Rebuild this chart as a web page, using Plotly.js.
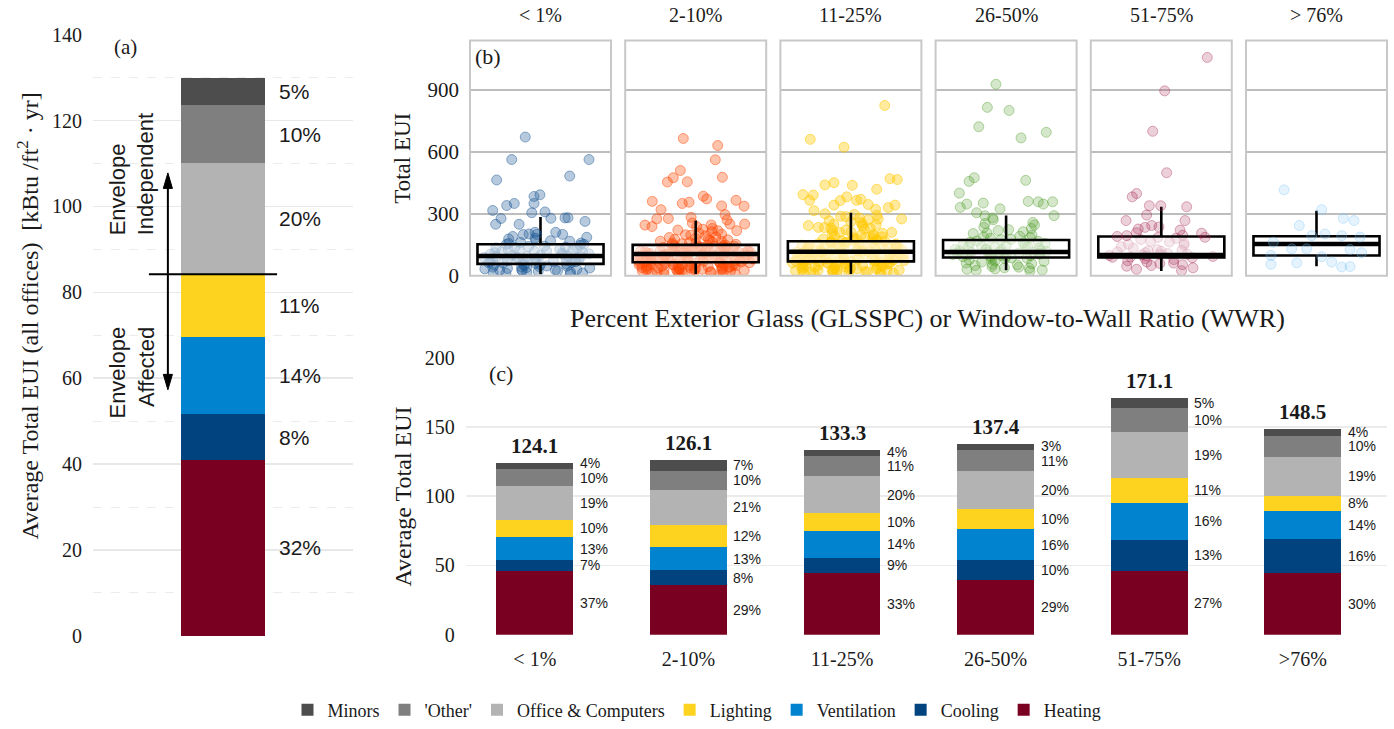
<!DOCTYPE html>
<html><head><meta charset="utf-8">
<script src="https://cdn.plot.ly/plotly-3.0.1.min.js"></script>
<style>html,body{margin:0;padding:0;background:#fff;overflow:hidden}#chart{width:1394px;height:729px}</style>
</head><body><div id="chart"></div>
<script>
// ---------- shared ----------
const components = ['Heating','Cooling','Ventilation','Lighting','Office & Computers',"'Other'",'Minors'];
const compColors = ['#7a0021','#00437f','#0183d0','#fdd31f','#b3b3b3','#7f7f7f','#4d4d4d'];

// ---------- panel (a): all offices ----------
const allOffices = [41.0, 10.6, 17.9, 14.7, 25.9, 13.5, 6.4];
const allOfficesPct = ['32%','8%','14%','11%','20%','10%','5%'];

// ---------- panel (c): by WWR ----------
const wwrCats = ['< 1%','2-10%','11-25%','26-50%','51-75%','>76%'];
const heating     = [46.2, 36.0, 44.3, 39.3, 46.2, 44.3];
const cooling     = [7.9, 10.4, 11.4, 14.3, 22.2, 24.8];
const ventilation = [16.2, 17.2, 18.9, 22.4, 26.9, 20.2];
const lighting    = [12.8, 15.3, 13.5, 14.5, 17.8, 11.2];
const office      = [24.0, 25.9, 26.2, 27.4, 33.3, 28.1];
const other       = [12.2, 13.6, 14.5, 15.5, 17.0, 14.8];
const minors      = [4.8, 7.7, 4.5, 4.0, 7.7, 5.1];
const totals      = [124.1, 126.1, 133.3, 137.4, 171.1, 148.5];
const heatingPct  = ['37%','29%','33%','29%','27%','30%'];
const coolingPct  = ['7%','8%','9%','10%','13%','16%'];
const ventPct     = ['13%','13%','14%','16%','16%','14%'];
const lightPct    = ['10%','12%','10%','10%','11%','8%'];
const officePct   = ['19%','21%','20%','20%','19%','19%'];
const otherPct    = ['10%','10%','11%','11%','10%','10%'];
const minorsPct   = ['4%','7%','4%','3%','5%','4%'];

// ---------- panel (b): distributions by GLSSPC ----------
const facetNames = ['< 1%','2-10%','11-25%','26-50%','51-75%','> 76%'];
const boxQ1  = [57, 65, 69, 88, 88, 98];
const boxMed = [95, 105, 116, 115, 100, 154];
const boxQ3  = [152, 149, 167, 173, 190, 191];
const boxLo  = [8, 8, 8, 26, 23, 45];
const boxHi  = [284, 267, 305, 292, 334, 315];
const ptRGB  = ['30,90,150','255,69,0','255,200,0','75,155,35','165,35,80','120,195,245'];
const ptAlpha = [0.32, 0.33, 0.38, 0.24, 0.22, 0.2];

const cluster1 = [9,13,16,21,23,28,30,35,37,42,44,49,52,54,59,61,66,68,71,76,78,83,86,89,92,94,97,103,106,109,114,118,121,125,128,134,138,141,147,152,156,161,169,173,182,190,199,12,26,47,64,81,99,116,133,151,167,33,57,74,104,143,18,41,88,
  15,24,39,51,63,73,84,96,111,124,137,158,178,27,46,69,93,119];
const cluster2 = [7,10,12,15,18,20,22,26,27,31,34,36,38,42,45,46,50,53,55,58,61,62,66,69,70,73,77,79,82,85,86,90,93,95,98,101,102,106,109,111,114,118,119,123,126,129,131,134,138,142,145,148,151,155,158,163,166,171,176,181,187,193,198,206,213,221,229,238,246,255,14,24,33,44,57,64,75,88,97,104,113,124,136,149,161,178,196,17,39,52,68,81,92,108,121,139,29,48,71,94,116,143,
  8,11,16,19,23,25,28,30,32,35,37,40,41,43,47,49,51,54,56,59,60,63,65,67,71,72,74,76,78,80,83,84,87,89,91,96,99,100,103,107,110,112,115,117,120,122,125,128,130,133,137,140,146,152,157,167,174,185,201,225];
const cluster3 = [8,11,14,17,21,24,26,30,33,35,39,42,45,47,51,54,57,60,62,66,69,72,74,78,81,84,87,90,93,96,99,103,105,108,112,115,118,121,125,128,131,135,139,142,146,150,154,157,161,165,169,174,178,183,188,194,199,205,211,218,226,233,241,249,258,266,279,288,297,13,28,41,56,67,79,91,107,119,133,148,163,181,202,222,261,19,36,63,85,111,127,152,171,192,286,
  9,12,15,18,20,23,27,29,31,34,37,40,43,46,49,52,55,58,61,64,65,68,70,73,76,77,80,83,86,88,92,95,98,101,104,109,113,116,120,123,126,130,134,137,141,145,149,153,158,162,167,172,177,186,197,209,230,246,271,293];
const cluster4 = [22,27,33,38,44,49,55,61,66,72,77,82,86,90,94,97,101,104,107,110,113,116,119,123,127,131,136,140,145,151,156,162,168,174,181,188,196,204,213,223,234,246,258,271,31,58,79,92,108,121,142,166,191,219,253,41,98,115,133,176,
  25,36,52,69,84,96,103,112,118,126,138,149,159,185,207,229];
const cluster5 = [24,31,38,46,53,59,66,72,78,83,87,91,95,98,101,104,107,111,115,120,126,133,140,148,157,166,175,185,196,208,221,236,61,89,103,122,152,181,49,93,118,163];
const cluster6 = [];

const outX1 = [-0.108,-0.204,0.344,-0.311,0.207,-0.004,-0.046,-0.046,-0.186,-0.240,-0.339,-0.062,0.032,0.074,-0.280,0.195,0.174,-0.318,-0.152,0.316,-0.081,-0.039,-0.027,0.108,0.157,0.328];
const outY1 = [672,563,563,464,483,392,384,350,350,340,316,305,309,278,277,281,280,249,249,263,202,210,200,210,200,186];
const outX2 = [-0.088,0.156,0.139,-0.109,-0.159,-0.201,-0.060,0.189,-0.308,-0.095,-0.047,0.054,0.078,0.286,0.343,0.184,-0.246,0.347,0.208,0.222,0.243,-0.033,-0.194,-0.276,0.291,-0.360,-0.310,0.158];
const outY2 = [665,631,562,510,475,454,455,477,360,350,356,385,372,365,337,338,320,250,296,270,250,283,277,275,218,245,238,218];
const outX3 = [0.240,-0.288,-0.049,-0.120,-0.184,0.010,0.277,0.329,0.183,-0.340,-0.267,-0.030,0.040,0.070,-0.292,-0.120,-0.075,0.123,0.313,0.265,-0.262,-0.184,0.175,-0.302,-0.231,-0.141,0.081,0.289,0.360,0.194];
const outY3 = [825,661,623,451,440,438,470,466,419,393,391,382,365,370,365,342,364,345,342,330,315,300,322,243,234,230,250,210,275,275];
const outX4 = [-0.072,-0.133,0.021,-0.194,0.285,0.106,-0.226,-0.263,0.139,-0.332,-0.162,-0.279,0.157,0.228,0.264,0.330,-0.325,-0.209,-0.043,0.340,-0.150,-0.095];
const outY4 = [928,816,801,722,695,668,475,457,462,400,352,347,360,358,347,358,331,305,324,291,290,280];
const outX5 = [0.326,0.024,-0.061,0.038,-0.206,-0.175,-0.085,-0.004,0.180,-0.104,-0.250,0.168,-0.164,-0.116,-0.068,-0.313,-0.245,0.286,0.310];
const outY5 = [1058,896,700,499,382,398,339,339,334,294,267,267,226,234,243,190,194,206,186];
const outX6 = [-0.230,0.037,0.190,0.266,-0.122,-0.034,0.179,0.060,0.309,-0.306,-0.176,-0.070,0.238,0.320,-0.323,0.037,0.108,-0.323,-0.140,0.179,0.238];
const outY6 = [416,320,278,267,243,194,194,202,187,162,130,130,127,111,98,92,66,55,62,42,44];

const clusters = [cluster1,cluster2,cluster3,cluster4,cluster5,cluster6];
const outXs = [outX1,outX2,outX3,outX4,outX5,outX6];
const outYs = [outY1,outY2,outY3,outY4,outY5,outY6];

// ---------- build ----------
const SERIF = 'Liberation Serif, Times New Roman, serif';
const SANS = 'Liberation Sans, Arial, sans-serif';
const TXT = '#1a1a1a';
const W = 1394, H = 729;
const px = v => v / W;
const py = v => (H - v) / H;
const PX_PER_UNIT_C = 280 / 200;   // panel (c) vertical scale, px per EUI unit
const MIN_GAP_C = 15;              // min px between stacked percent labels

const traces = [];
const annotations = [];
const shapes = [];

// panel (a) bars
components.forEach((c, i) => {
  traces.push({type:'bar', x:[0], y:[allOffices[i]], xaxis:'x', yaxis:'y', width:0.323,
    marker:{color:compColors[i]}, name:c, showlegend:false, hoverinfo:'skip'});
});
let cumA = 0;
allOffices.forEach((v, i) => {
  annotations.push({xref:'x', yref:'y', x:0, y:cumA + v/2, xanchor:'left', xshift:54,
    text:allOfficesPct[i], showarrow:false, font:{family:SANS, size:21, color:TXT}});
  cumA += v;
});

// panel (c) bars
const panelC = [heating, cooling, ventilation, lighting, office, other, minors];
const panelCPct = [heatingPct, coolingPct, ventPct, lightPct, officePct, otherPct, minorsPct];
components.forEach((c, i) => {
  traces.push({type:'bar', x:wwrCats, y:panelC[i], xaxis:'x8', yaxis:'y3', width:0.5,
    marker:{color:compColors[i]}, name:c, showlegend:true, hoverinfo:'skip'});
});
wwrCats.forEach((cat, j) => {
  let cum = 0;
  let lastPx = -1e9;
  panelC.forEach((arr, i) => {
    const center = cum + arr[j]/2;
    let posPx = center * PX_PER_UNIT_C;
    let shift = 0;
    if (posPx - lastPx < MIN_GAP_C) { shift = lastPx + MIN_GAP_C - posPx; posPx += shift; }
    lastPx = posPx;
    annotations.push({xref:'x8', yref:'y3', x:cat, y:center, yshift:shift, xanchor:'left', xshift:44,
      text:panelCPct[i][j], showarrow:false, borderpad:0, font:{family:SANS, size:14, color:TXT}});
    cum += arr[j];
  });
  annotations.push({xref:'x8', yref:'y3', x:cat, y:totals[j], yshift:17, yanchor:'middle',
    text:'<b>' + totals[j].toFixed(1) + '</b>', showarrow:false, font:{family:SERIF, size:21, color:TXT}});
});

// panel (b) facets
const facetLeft = [470, 625.2, 780.4, 935.6, 1090.8, 1246];
const facetW = 141;
const layout = {
  width:W, height:H, margin:{l:0,r:0,t:0,b:0},
  paper_bgcolor:'#fff', plot_bgcolor:'rgba(0,0,0,0)',
  barmode:'stack', hovermode:false,
  font:{family:SERIF, color:TXT},
  showlegend:true,
  legend:{orientation:'h', x:0.5, xanchor:'center', y:py(718), yanchor:'middle',
    traceorder:'reversed', font:{family:SERIF, size:18, color:TXT}, itemwidth:30, bgcolor:'rgba(0,0,0,0)'},
  xaxis:{domain:[px(93), px(353)], range:[-0.5,0.5], anchor:'y', showticklabels:false, showgrid:false, zeroline:false, fixedrange:true},
  yaxis:{domain:[py(643), py(35)], range:[0,140], dtick:20, anchor:'x', gridcolor:'#e8e8e8', gridwidth:1.5,
    minor:{dtick:10, showgrid:true, gridcolor:'#ececec', griddash:'dash', gridwidth:1},
    zeroline:false, tickfont:{size:20, family:SERIF, color:TXT}, ticklabelstandoff:10, fixedrange:true},
  yaxis2:{domain:[py(278.7), py(41)], range:[0,1140], tickvals:[0,300,600,900], anchor:'x2',
    gridcolor:'#bdbdbd', gridwidth:2, zeroline:false, tickfont:{size:21, family:SERIF, color:TXT}, ticklabelstandoff:10, fixedrange:true},
  xaxis8:{domain:[px(465.7), px(1387.3)], range:[-0.45,5.55], type:'category', anchor:'y3', showgrid:false, zeroline:false,
    tickfont:{size:20, family:SERIF, color:TXT}, ticklabelstandoff:10, fixedrange:true},
  yaxis3:{domain:[py(641.7), py(361.7)], range:[0,200], dtick:50, anchor:'x8', gridcolor:'#ebebeb', gridwidth:1.5,
    zeroline:false, tickfont:{size:20, family:SERIF, color:TXT}, ticklabelstandoff:10, fixedrange:true}
};

facetNames.forEach((name, k) => {
  const xa = 'x' + (k + 2);
  layout['xaxis' + (k + 2)] = {domain:[px(facetLeft[k]), px(facetLeft[k] + facetW)], range:[-0.5,0.5], anchor:'y2',
    showticklabels:false, showgrid:false, zeroline:false, fixedrange:true};
  const rgb = ptRGB[k];
  const mk = {size:10, color:'rgba(' + rgb + ',' + ptAlpha[k] + ')', line:{color:'rgba(' + rgb + ',' + (ptAlpha[k] + 0.15) + ')', width:1}};
  if (clusters[k].length) {
    traces.push({type:'box', y:clusters[k], x0:0, xaxis:xa, yaxis:'y2', boxpoints:'all', jitter:1, pointpos:0,
      width:0.86, whiskerwidth:0, line:{color:'rgba(0,0,0,0)', width:0}, fillcolor:'rgba(0,0,0,0)',
      marker:mk, showlegend:false, hoverinfo:'skip'});
  }
  traces.push({type:'box', x:[0], q1:[boxQ1[k]], median:[boxMed[k]], q3:[boxQ3[k]], lowerfence:[boxLo[k]], upperfence:[boxHi[k]],
    xaxis:xa, yaxis:'y2', boxpoints:false, width:0.894, whiskerwidth:0, line:{color:'#000', width:2.6},
    fillcolor:'rgba(255,255,255,0.55)', showlegend:false, hoverinfo:'skip'});
  traces.push({type:'box', x:[0], q1:[boxMed[k]], median:[boxMed[k]], q3:[boxMed[k]], lowerfence:[boxMed[k]], upperfence:[boxMed[k]],
    xaxis:xa, yaxis:'y2', boxpoints:false, width:0.894, whiskerwidth:0, line:{color:'#000', width:4.5},
    fillcolor:'rgba(0,0,0,0)', showlegend:false, hoverinfo:'skip'});
  traces.push({type:'scatter', mode:'markers', x:outXs[k], y:outYs[k], xaxis:xa, yaxis:'y2', cliponaxis:true,
    marker:mk, showlegend:false, hoverinfo:'skip'});
  shapes.push({type:'rect', xref:xa + ' domain', yref:'y2 domain', x0:0, x1:1, y0:0, y1:1,
    line:{color:'#c8c8c8', width:2}, layer:'above'});
  annotations.push({xref:'paper', yref:'paper', x:px(facetLeft[k] + facetW/2), y:py(15), xanchor:'center', yanchor:'middle',
    text:name, showarrow:false, font:{family:SERIF, size:20, color:TXT}});
});

// panel (a) divider + double arrow (shaft + two heads) + texts
shapes.push({type:'line', xref:'x', yref:'y', x0:-0.285, x1:0.208, y0:84.2, y1:84.2, line:{color:'#000', width:2}});
shapes.push({type:'line', xref:'x', yref:'y', x0:-0.212, x1:-0.212, y0:104.5, y1:60.6, line:{color:'#000', width:2}});
shapes.push({type:'path', xref:'x', yref:'y', path:'M -0.212,107.8 L -0.2295,104.2 L -0.1945,104.2 Z', fillcolor:'#000', line:{color:'#000', width:1}});
shapes.push({type:'path', xref:'x', yref:'y', path:'M -0.212,57.3 L -0.2295,60.9 L -0.1945,60.9 Z', fillcolor:'#000', line:{color:'#000', width:1}});
annotations.push({xref:'x', yref:'y', x:-0.35, y:92.8, xanchor:'center', yanchor:'bottom', textangle:-90, align:'left',
  text:'Envelope<br>Independent', showarrow:false, font:{family:SANS, size:22, color:TXT}});
annotations.push({xref:'x', yref:'y', x:-0.35, y:72.5, xanchor:'center', yanchor:'top', textangle:-90, align:'right',
  text:'Envelope<br>Affected', showarrow:false, font:{family:SANS, size:22, color:TXT}});

// titles and tags
annotations.push({xref:'paper', yref:'paper', x:px(28), y:py(320), xanchor:'center', yanchor:'middle', textangle:-90,
  text:'Average Total EUI (all offices)\u00a0 [kBtu /ft<sup>2</sup> · yr]', showarrow:false, font:{family:SERIF, size:24, color:TXT}});
annotations.push({xref:'paper', yref:'paper', x:px(402.5), y:py(160), xanchor:'center', yanchor:'middle', textangle:-90,
  text:'Total EUI', showarrow:false, font:{family:SERIF, size:23, color:TXT}});
annotations.push({xref:'paper', yref:'paper', x:px(927.5), y:py(322), xanchor:'center', yanchor:'middle',
  text:'Percent Exterior Glass (GLSSPC) or Window-to-Wall Ratio (WWR)', showarrow:false, font:{family:SERIF, size:26, color:TXT}});
annotations.push({xref:'paper', yref:'paper', x:px(402.5), y:py(502.5), xanchor:'center', yanchor:'middle', textangle:-90,
  text:'Average Total EUI', showarrow:false, font:{family:SERIF, size:24, color:TXT}});
annotations.push({xref:'paper', yref:'paper', x:px(125), y:py(48), xanchor:'center', yanchor:'middle',
  text:'(a)', showarrow:false, font:{family:SERIF, size:21, color:TXT}});
annotations.push({xref:'paper', yref:'paper', x:px(488.5), y:py(57), xanchor:'center', yanchor:'middle',
  text:'(b)', showarrow:false, font:{family:SERIF, size:22, color:TXT}});
annotations.push({xref:'paper', yref:'paper', x:px(501), y:py(378), xanchor:'center', yanchor:'middle',
  text:'(c)', showarrow:false, font:{family:SERIF, size:22, color:TXT}});

layout.annotations = annotations;
layout.shapes = shapes;

Plotly.newPlot('chart', traces, layout, {displayModeBar:false, staticPlot:true});
</script>
</body></html>
